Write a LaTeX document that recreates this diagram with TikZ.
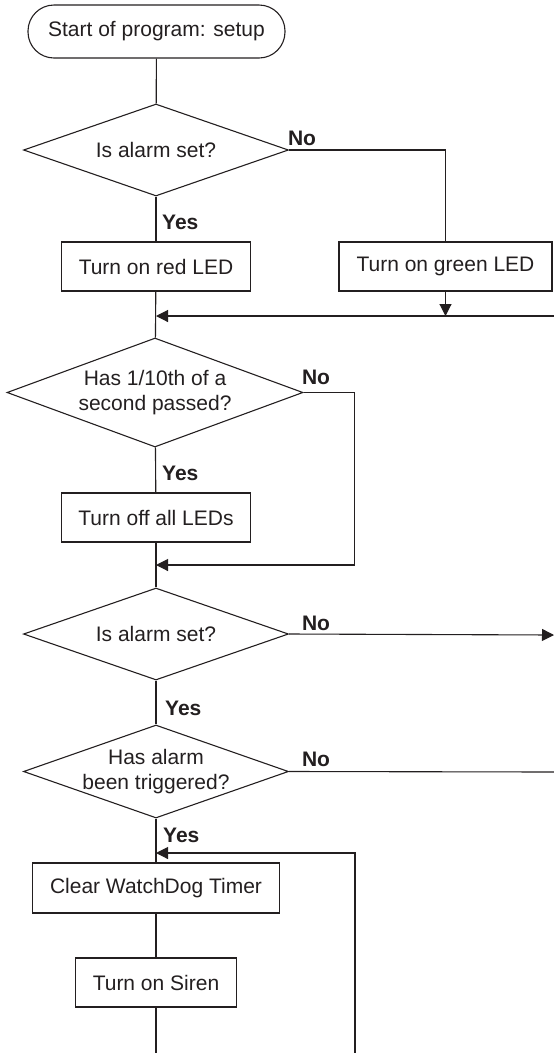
\documentclass[tikz,border=0pt]{standalone}
\usepackage{fontspec}
\setmainfont{Liberation Sans}
\usetikzlibrary{shapes.geometric,arrows.meta}
\definecolor{ink}{HTML}{231F20}
\newcommand\flowfont{\fontsize{21}{25.5}\selectfont}
\tikzset{
  flow/.style={draw=ink,line width=1.1pt},
  term/.style={flow,rectangle,rounded corners=26pt,minimum width=257pt,minimum height=53pt},
  proc/.style={flow,rectangle,minimum height=49pt},
  decision/.style={flow,diamond,aspect=2.9,align=center,inner xsep=-12pt,inner ysep=0pt},
  yes/.style={font=\flowfont\bfseries,anchor=west,inner sep=0pt},
  no/.style={font=\flowfont\bfseries,inner sep=0pt},
}
\begin{document}
\begin{tikzpicture}[x=1pt,y=-1pt,>={Triangle[length=12pt,width=12pt]},text=ink,font=\flowfont]
\useasboundingbox (0,0) rectangle (554,1053);
% boxes
\node[term] (start) at (156.5,31.5) {Start of program: setup};
\node[decision,minimum width=265pt,minimum height=92pt] (alarm) at (156,150) {Is alarm set?};
\node[proc,minimum width=188.5pt] (red) at (156,266.5) {Turn on red LED};
\node[proc,minimum width=213pt] (green) at (445.5,266.5) {Turn on green LED};
\node[decision,minimum width=296pt,minimum height=109pt] (tenth) at (155,392.5) {Has 1/10th of a\\second passed?};
\node[proc,minimum width=189pt] (off) at (156,517.5) {Turn off all LEDs};
\node[decision,minimum width=265pt,minimum height=92pt] (armed) at (156,634) {Is alarm set?};
\node[decision,minimum width=265pt,minimum height=93pt] (trig) at (156,771.5) {Has alarm\\been triggered?};
\node[proc,minimum width=247pt,minimum height=50pt] (wdt) at (156,888) {Clear WatchDog Timer};
\node[proc,minimum width=161.5pt] (siren) at (156,982.5) {Turn on Siren};
% joins and loose ends
\coordinate (ret1) at (554,316);
\coordinate (join1) at (156,316);
\coordinate (skip) at (354.5,565);
\coordinate (join2) at (156,565);
\coordinate (out1) at (554,635);
\coordinate (out2) at (554,772);
\coordinate (ret2) at (355,1053);
\coordinate (join3) at (156,853);
\coordinate (down) at (156,1053);
% lines
\draw[flow] (start) -- (alarm);
\draw[flow] (alarm) -- (red);
\draw[flow] (alarm.east) -| (green);
\draw[flow,->] (green) -- (green |- ret1);
\draw[flow,->] (ret1) -- (join1);
\draw[flow] (red) -- (tenth);
\draw[flow] (tenth) -- (off);
\draw[flow,->] (tenth.east) -| (skip) -- (join2);
\draw[flow] (off) -- (armed);
\draw[flow,->] (armed.east) -- (out1);
\draw[flow] (armed) -- (trig);
\draw[flow] (trig.east) -- (out2);
\draw[flow] (trig) -- (wdt);
\draw[flow,->] (ret2) |- (join3);
\draw[flow] (wdt) -- (siren);
\draw[flow] (siren) -- (down);
% yes / no
\node[no] (no1) at (302,138) {No};
\node[no] (no2) at (316,377) {No};
\node[no] (no3) at (316,623) {No};
\node[no] (no4) at (316,759) {No};
\node[yes] (yes1) at (162,222) {Yes};
\node[yes] (yes2) at (162,473) {Yes};
\node[yes] (yes3) at (165,708) {Yes};
\node[yes] (yes4) at (163,835) {Yes};
\end{tikzpicture}
\end{document}
